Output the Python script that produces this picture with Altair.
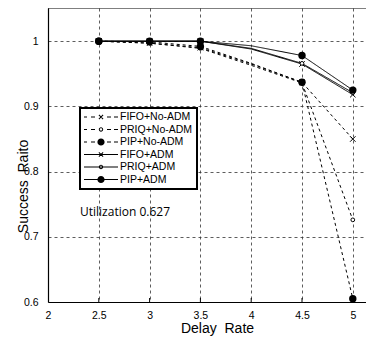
import altair as alt
import pandas as pd

# ---------------- data ----------------
delay_rate = [2.5, 3.0, 3.5, 4.0, 4.5, 5.0]
marked_rates = [2.5, 3.0, 3.5, 4.5, 5.0]

fifo_no_adm = [1.000, 0.997, 0.990, 0.965, 0.937, 0.850]
priq_no_adm = [1.000, 0.997, 0.989, 0.963, 0.936, 0.726]
pip_no_adm = [1.000, 0.999, 0.992, 0.966, 0.937, 0.605]
fifo_adm = [1.000, 1.000, 1.000, 0.988, 0.965, 0.918]
priq_adm = [1.000, 1.000, 1.000, 0.989, 0.966, 0.921]
pip_adm = [1.000, 1.000, 1.000, 0.993, 0.978, 0.925]

series_names = ["FIFO+No-ADM", "PRIQ+No-ADM", "PIP+No-ADM",
                "FIFO+ADM", "PRIQ+ADM", "PIP+ADM"]
series_values = [fifo_no_adm, priq_no_adm, pip_no_adm,
                 fifo_adm, priq_adm, pip_adm]

x_ticks = [2, 2.5, 3, 3.5, 4, 4.5, 5]
y_ticks = [0.6, 0.7, 0.8, 0.9, 1.0]
note_text = "Utilization 0.627"

rows = []
for name, vals in zip(series_names, series_values):
    kind, adm = name.split("+")
    for xv, yv in zip(delay_rate, vals):
        rows.append({"series": name, "kind": kind, "adm": adm,
                     "x": xv, "y": yv, "marked": xv in marked_rates})
df = pd.DataFrame(rows)

# ---------------- layout ----------------
W, H = 318, 294
XDOM = [2, 2 + W / 101.6]
YDOM = [0.6, 0.6 + H / 652.0]

# ---------------- legend symbols (line + marker as filled paths) --------
S = 17.0


def n(v):
    return f"{v / S:.4f}"


def rect(x1, x2, h=0.5):
    return f"M{n(x1)},{n(-h)}L{n(x1)},{n(h)}L{n(x2)},{n(h)}L{n(x2)},{n(-h)}Z"


def circ(r, sweep=0):
    return (f"M{n(r)},0A{n(r)},{n(r)} 0 1,{sweep} {n(-r)},0"
            f"A{n(r)},{n(r)} 0 1,{sweep} {n(r)},0Z")


def xmark(a=3.0, t=0.5):
    d = a * 0.7071
    q = t * 0.7071
    p1 = [(d - q, d + q), (d + q, d - q), (-d + q, -d - q), (-d - q, -d + q)]
    p2 = [(d + q, -d + q), (d - q, -d - q), (-d - q, d - q), (-d + q, d + q)]
    out = ""
    for poly in (p1, p2):
        out += "M" + "L".join(f"{n(px)},{n(py)}" for px, py in poly) + "Z"
    return out


dashed = "".join(rect(a, b) for a, b in [(-17, -14), (-10, -6), (6, 10), (13, 17)])
solid = rect(-17, 17)
marker_paths = {
    "FIFO": xmark(),
    "PRIQ": circ(2.2) + circ(1.2, 1),
    "PIP": circ(3.6),
}
legend_paths = []
for name in series_names:
    kind, adm = name.split("+")
    legend_paths.append((dashed if adm == "No-ADM" else solid) + marker_paths[kind])

# ---------------- chart ----------------
x_enc = alt.X("x:Q", scale=alt.Scale(domain=XDOM, nice=False, zero=False),
              axis=alt.Axis(values=x_ticks, format="~g", title="Delay\u00a0 Rate",
                            titleX=169, titleY=30, titleBaseline="alphabetic",
                            titleAlign="center", labelFlush=False,
                            labelPadding=8, tickSize=0))
y_enc = alt.Y("y:Q", scale=alt.Scale(domain=YDOM, nice=False, zero=False),
              axis=alt.Axis(values=y_ticks, format="~g", title="Success\u00a0 Raito",
                            titleX=-25, titleY=178, titleAngle=270,
                            titleBaseline="middle", titleAlign="center",
                            labelPadding=10, tickSize=0))

base = alt.Chart(df)

lines = base.mark_line(color="black", strokeWidth=1).encode(
    x=x_enc, y=y_enc, detail="series:N",
    strokeDash=alt.StrokeDash("adm:N", scale=alt.Scale(domain=["No-ADM", "ADM"],
                                                       range=[[3, 3], [1, 0]]),
                              legend=None),
)

crosses = base.transform_filter("datum.marked && datum.kind == 'FIFO'").mark_point(
    shape="M-1,-1L1,1M-1,1L1,-1", size=30, filled=False, color="black",
    strokeWidth=1, opacity=1).encode(x="x:Q", y="y:Q")
rings = base.transform_filter("datum.marked && datum.kind == 'PRIQ'").mark_point(
    shape="circle", size=14, filled=False, fill="white", color="black",
    strokeWidth=1, opacity=1).encode(x="x:Q", y="y:Q")
dots = base.transform_filter("datum.marked && datum.kind == 'PIP'").mark_point(
    shape="circle", size=55, filled=True, color="black", opacity=1).encode(
    x="x:Q", y="y:Q")

legend_layer = base.mark_point(filled=True, opacity=0, size=1, color="black").encode(
    x="x:Q", y="y:Q",
    shape=alt.Shape("series:N",
                    scale=alt.Scale(domain=series_names, range=legend_paths),
                    legend=alt.Legend(
                        title=None, orient="none", legendX=32, legendY=100,
                        symbolSize=1156, symbolFillColor="black",
                        symbolStrokeWidth=0, symbolOpacity=1, clipHeight=10,
                        labelFont="Liberation Sans Narrow, Liberation Sans",
                        labelFontSize=10.5,
                        labelExpr="datum.label + '\u00a0\u00a0\u00a0\u00a0'",
                        labelColor="black", labelOffset=2, rowPadding=1.5,
                        padding=4, strokeColor="black", fillColor="white",
                        cornerRadius=0)),
)

frame = alt.Chart(pd.DataFrame({"k": [0]})).mark_rule(color="black", strokeWidth=1).encode(
    x=alt.value(0), x2=alt.value(W), y=alt.value(0))

inner_ticks = alt.Chart(pd.DataFrame({"x": x_ticks[1:]})).mark_rule(
    color="black", strokeWidth=1).encode(x="x:Q", y=alt.value(H), y2=alt.value(H - 4))

note = alt.Chart(pd.DataFrame({"t": [note_text]})).mark_text(
    align="left", baseline="middle", font="Open Sans", fontSize=12, color="black").encode(
    x=alt.value(32), y=alt.value(204), text="t:N")

chart = alt.layer(lines, inner_ticks, crosses, rings, dots, legend_layer, frame, note).properties(
    width=W, height=H,
    autosize=alt.AutoSizeParams(type="none"),
    padding={"left": 40, "top": 0, "right": 0, "bottom": 35},
).configure_view(stroke=None).configure_axis(
    domainColor="black", domainWidth=1.2,
    gridColor="#333333", gridDash=[3, 3], gridWidth=0.8, gridOpacity=1,
    labelFont="Liberation Sans", labelFontSize=10.5, labelColor="black",
    titleFont="Liberation Sans", titleFontSize=14, titleColor="black",
    titleFontWeight="normal",
).configure_legend(strokeWidth=2)

chart.save("out.html", embed_options={"renderer": "svg", "actions": False})
